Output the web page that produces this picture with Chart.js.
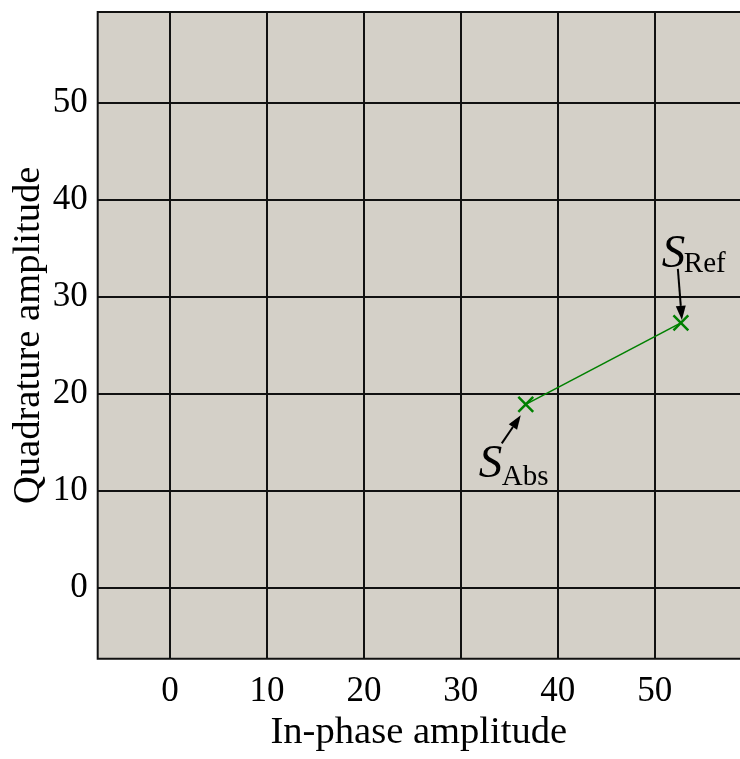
<!DOCTYPE html>
<html lang="en">
<head>
  <meta charset="UTF-8">
  <title>Signal constellation</title>
  <script src="https://cdn.jsdelivr.net/npm/chart.js"></script>
  <style>
    body { margin: 0; background: #fff; }
    canvas { display: block; }
  </style>
</head>
<body>
  <canvas id="iq" width="740" height="759"></canvas>

  <script>
    // signal states (in-phase / quadrature)
    const stateNames = ['Abs', 'Ref'];
    const inPhase = [36.7, 52.7];
    const quadrature = [18.9, 27.3];
    const xTickValues = [0, 10, 20, 30, 40, 50];
    const yTickValues = [0, 10, 20, 30, 40, 50];

    const SERIF = '"Liberation Serif", "Times New Roman", serif';
    const PLOT_BG = '#d4d0c8';
    const INK = '#111';

    // where each label sits relative to its point (px)
    const labelOffsets = {
      Abs: { s: [-47, 73], sub: [-24, 81], from: [-24, 39], to: [-5, 11] },
      Ref: { s: [-19, -56], sub: [3, -51], from: [-3, -54], to: [1, -3] }
    };

    const plotFrame = {
      id: 'plotFrame',
      beforeDraw(chart) {
        const { ctx, chartArea: a } = chart;
        ctx.save();
        ctx.fillStyle = PLOT_BG;
        ctx.fillRect(a.left, a.top, a.right - a.left, a.bottom - a.top);
        ctx.restore();
      },
      afterDraw(chart) {
        const { ctx, chartArea: a } = chart;
        ctx.save();
        ctx.strokeStyle = INK;
        ctx.lineWidth = 2;
        ctx.beginPath();
        ctx.moveTo(a.right, a.top);
        ctx.lineTo(a.left, a.top);
        ctx.lineTo(a.left, a.bottom);
        ctx.lineTo(a.right, a.bottom);
        ctx.stroke();
        ctx.restore();
      }
    };

    const stateLabels = {
      id: 'stateLabels',
      afterDraw(chart) {
        const { ctx, scales: { x, y } } = chart;
        ctx.save();
        stateNames.forEach((name, i) => {
          const px = x.getPixelForValue(inPhase[i]);
          const py = y.getPixelForValue(quadrature[i]);
          const o = labelOffsets[name];
          ctx.fillStyle = '#000';
          ctx.textBaseline = 'alphabetic';
          ctx.textAlign = 'left';
          ctx.font = 'italic 47px ' + SERIF;
          ctx.fillText('S', px + o.s[0], py + o.s[1]);
          ctx.font = '29px ' + SERIF;
          ctx.fillText(name, px + o.sub[0], py + o.sub[1]);

          // arrow pointing at the state
          const x0 = px + o.from[0], y0 = py + o.from[1];
          const x1 = px + o.to[0], y1 = py + o.to[1];
          const ang = Math.atan2(y1 - y0, x1 - x0);
          const head = 14, half = 5;
          const bx = x1 - head * Math.cos(ang), by = y1 - head * Math.sin(ang);
          ctx.strokeStyle = '#000';
          ctx.lineWidth = 2;
          ctx.beginPath();
          ctx.moveTo(x0, y0);
          ctx.lineTo(bx, by);
          ctx.stroke();
          ctx.beginPath();
          ctx.moveTo(x1, y1);
          ctx.lineTo(bx + half * Math.sin(ang), by - half * Math.cos(ang));
          ctx.lineTo(bx - half * Math.sin(ang), by + half * Math.cos(ang));
          ctx.closePath();
          ctx.fill();
        });
        ctx.restore();
      }
    };

    // axes keep their fixed size; no extra room for overhanging labels
    function noPadding(s) {
      s.paddingTop = s.paddingBottom = s.paddingLeft = s.paddingRight = 0;
    }

    const tickFont = { family: SERIF, size: 35 };
    const titleFont = { family: SERIF, size: 38.6 };

    new Chart(document.getElementById('iq'), {
      type: 'scatter',
      data: {
        datasets: [{
          data: inPhase.map((v, i) => ({ x: v, y: quadrature[i] })),
          showLine: true,
          borderColor: '#008000',
          borderWidth: 1.6,
          pointStyle: 'crossRot',
          pointRadius: 10.5,
          pointBorderWidth: 2.5,
          pointBorderColor: '#008000',
          pointBackgroundColor: '#008000'
        }]
      },
      options: {
        responsive: false,
        animation: false,
        layout: { autoPadding: false, padding: { top: 12, right: 0, bottom: 0, left: 0 } },
        plugins: { legend: { display: false }, tooltip: { enabled: false } },
        scales: {
          x: {
            type: 'linear',
            min: -7.46,
            max: 58.8,
            afterBuildTicks: s => { s.ticks = xTickValues.map(v => ({ value: v })); },
            afterFit: s => { s.height = 100.3; noPadding(s); },
            grid: { color: INK, lineWidth: 2, drawTicks: false },
            border: { display: false },
            ticks: { font: tickFont, color: '#000', padding: 12, maxRotation: 0 },
            title: { display: true, text: 'In-phase amplitude', font: titleFont, color: '#000', padding: { top: 0, bottom: 3 } }
          },
          y: {
            type: 'linear',
            min: -7.32,
            max: 59.35,
            afterBuildTicks: s => { s.ticks = yTickValues.map(v => ({ value: v })); },
            afterFit: s => { s.width = 97.7; noPadding(s); },
            grid: { color: INK, lineWidth: 2, drawTicks: false },
            border: { display: false },
            ticks: { font: tickFont, color: '#000', padding: 10 },
            title: { display: true, text: 'Quadrature amplitude', font: titleFont, color: '#000', padding: { top: 6, bottom: 0 } }
          }
        }
      },
      plugins: [plotFrame, stateLabels]
    });
  </script>
</body>
</html>
